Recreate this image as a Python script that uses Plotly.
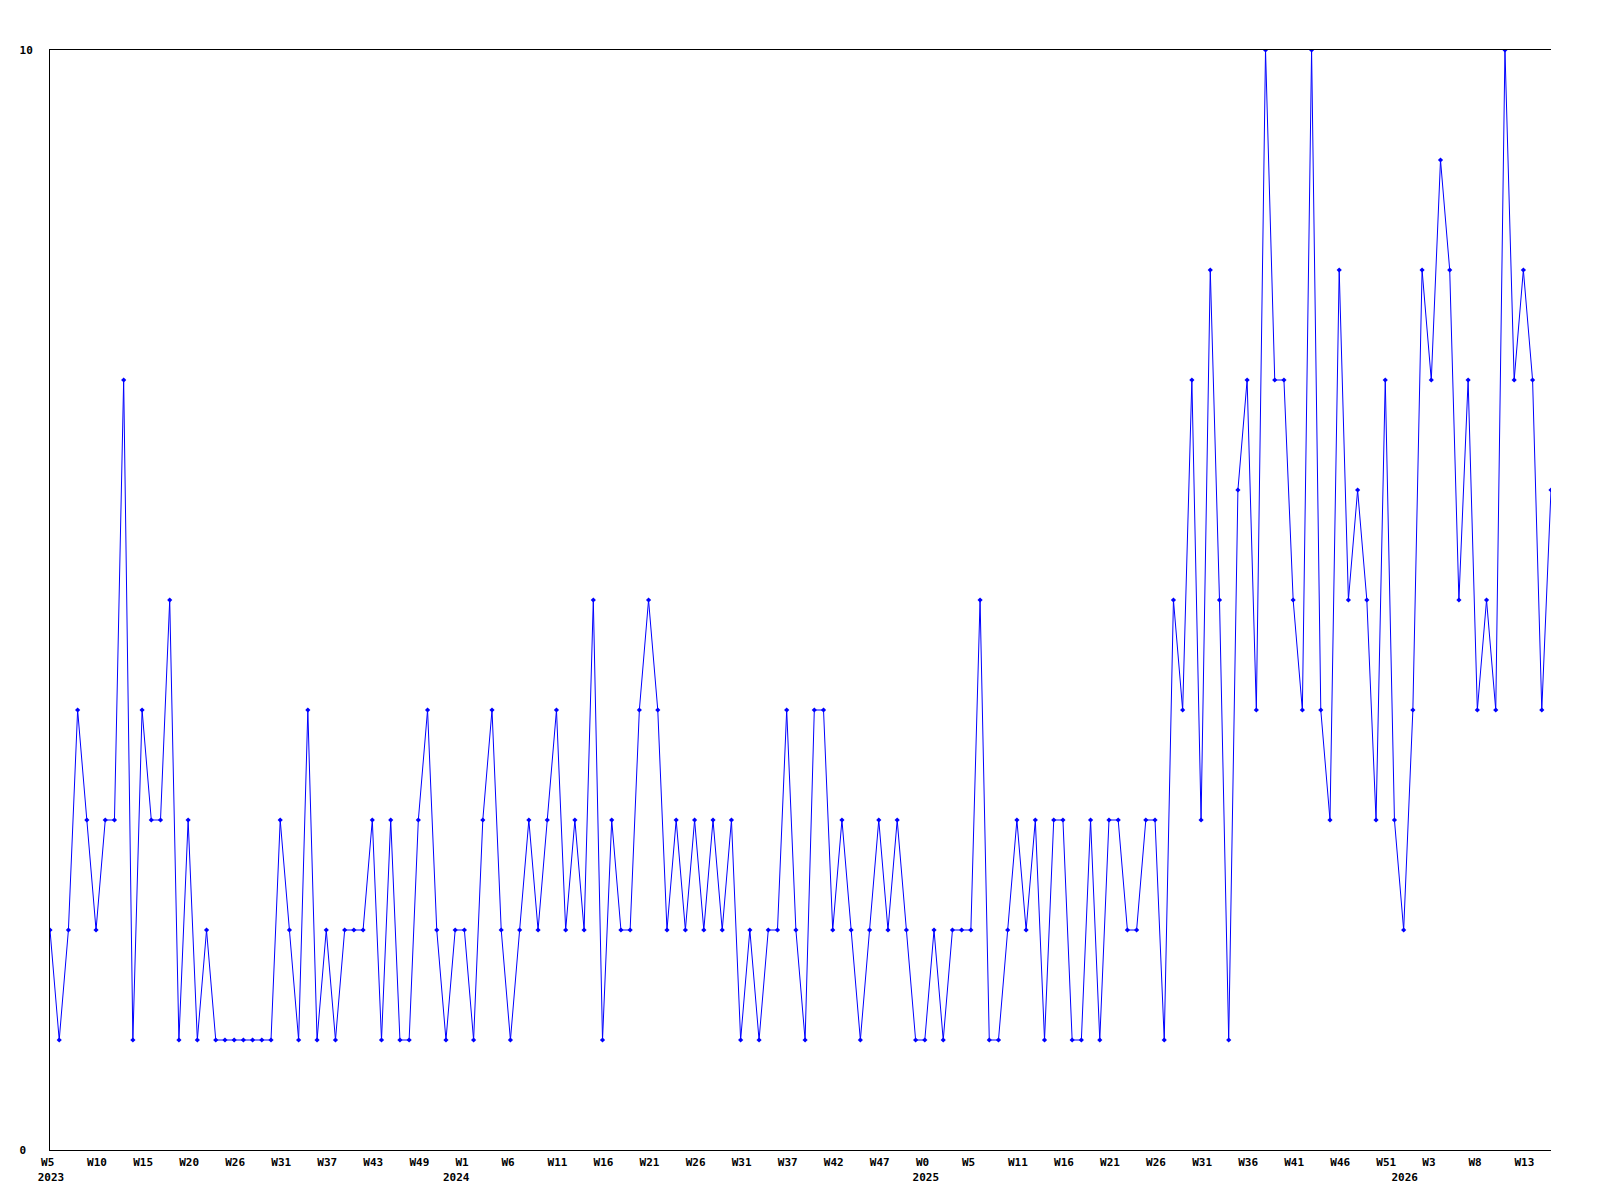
import plotly.graph_objects as go

# weekly values (one per week, first point = 2023 W5)
values = [2, 1, 2, 4, 3, 2, 3, 3, 7, 1,
          4, 3, 3, 5, 1, 3, 1, 2, 1, 1,
          1, 1, 1, 1, 1, 3, 2, 1, 4, 1,
          2, 1, 2, 2, 2, 3, 1, 3, 1, 1,
          3, 4, 2, 1, 2, 2, 1, 3, 4, 2,
          1, 2, 3, 2, 3, 4, 2, 3, 2, 5,
          1, 3, 2, 2, 4, 5, 4, 2, 3, 2,
          3, 2, 3, 2, 3, 1, 2, 1, 2, 2,
          4, 2, 1, 4, 4, 2, 3, 2, 1, 2,
          3, 2, 3, 2, 1, 1, 2, 1, 2, 2,
          2, 5, 1, 1, 2, 3, 2, 3, 1, 3,
          3, 1, 1, 3, 1, 3, 3, 2, 2, 3,
          3, 1, 5, 4, 7, 3, 8, 5, 1, 6,
          7, 4, 10, 7, 7, 5, 4, 10, 4, 3,
          8, 5, 6, 5, 3, 7, 3, 2, 4, 8,
          7, 9, 8, 5, 7, 4, 5, 4, 10, 7,
          8, 7, 4, 6]

# week tick labels, one every 5 points
week_labels = ["W5", "W10", "W15", "W20", "W26", "W31", "W37", "W43", "W49",
               "W1", "W6", "W11", "W16", "W21", "W26", "W31", "W37", "W42",
               "W47", "W0", "W5", "W11", "W16", "W21", "W26", "W31", "W36",
               "W41", "W46", "W51", "W3", "W8", "W13"]
week_step = 5

# year labels and the point index where each year starts
years = ["2023", "2024", "2025", "2026"]
year_index = [0, 44, 95, 147]

x = list(range(len(values)))

# build tick values / texts (week on first line, year on second)
ticks = {}
for k, lab in enumerate(week_labels):
    lab = lab if len(lab) >= 3 else lab + "\u00a0"
    ticks[k * week_step] = [lab, ""]
for yr, idx in zip(years, year_index):
    ticks.setdefault(idx, ["", ""])
    ticks[idx][1] = yr
tickvals = sorted(ticks)
ticktext = [(ticks[v][0] or "\u00a0") + "<br>" + ticks[v][1] if ticks[v][1] else ticks[v][0]
            for v in tickvals]

fig = go.Figure()
fig.add_trace(go.Scatter(
    x=x, y=values, mode="lines+markers",
    line=dict(color="#0000ff", width=1),
    marker=dict(symbol="diamond", size=4, color="#0000ff"),
    showlegend=False,
))

font = dict(family="DejaVu Sans Mono", size=11, color="#000000", weight="bold")

fig.update_layout(
    width=1600, height=1200,
    margin=dict(l=50, r=49, t=50, b=50),
    paper_bgcolor="white", plot_bgcolor="white",
    xaxis=dict(
        range=[0, len(values) - 1],
        tickmode="array", tickvals=tickvals, ticktext=ticktext,
        tickangle=0,
        showgrid=False, zeroline=False,
        showline=True, linecolor="black", linewidth=1, mirror=True,
        ticks="", tickfont=font, ticklabelstandoff=2, ticklabelshift=1,
    ),
    yaxis=dict(
        range=[0, 10],
        tickmode="array", tickvals=[0, 10], ticktext=["0\u00a0", "10"],
        showgrid=False, zeroline=False,
        showline=True, linecolor="black", linewidth=1,
        ticks="", tickfont=font, ticklabelstandoff=14,
    ),
)

fig.write_html("out.html", config={"displayModeBar": False},
               post_script="document.body.style.margin='0';")
